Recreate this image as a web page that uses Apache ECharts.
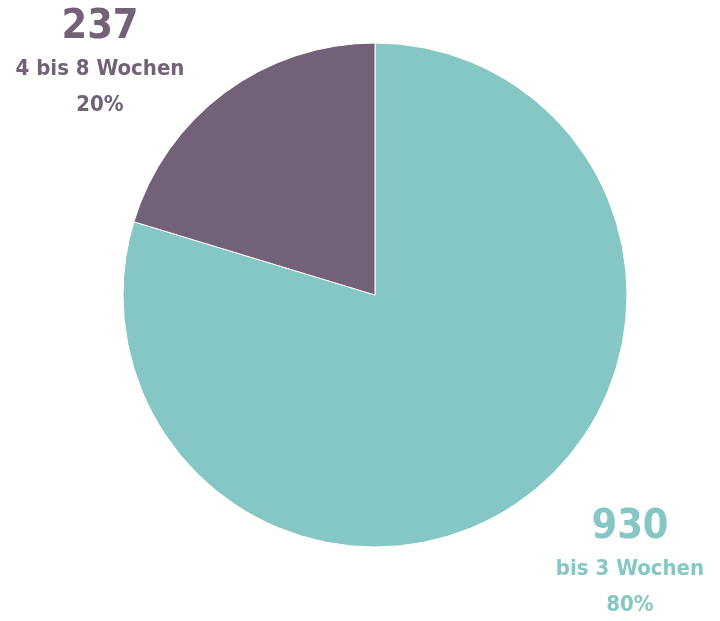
<!DOCTYPE html>
<html>
<head>
<meta charset="utf-8">
<script src="https://cdn.jsdelivr.net/npm/echarts@6/dist/echarts.min.js"></script>
<style>
  html, body { margin: 0; padding: 0; background: #fff; }
  #chart { width: 720px; height: 621px; }
</style>
</head>
<body>
<div id="chart"></div>
<script>
const categories = ['bis 3 Wochen', '4 bis 8 Wochen']
const values = [930, 237]
const colors = ['#84c7c4', '#736178']

// where each label block sits (center of block)
const labelSpots = [
  { x: 630, y: 563 },
  { x: 100, y: 63 }
]

const chart = echarts.init(document.getElementById('chart'))
const font = '"DejaVu Sans Condensed", "DejaVu Sans", sans-serif'

const option = {
  animation: false,
  series: [{
    type: 'pie',
    center: [375, 295],
    radius: [0, 252],
    startAngle: 90,
    clockwise: true,
    itemStyle: { borderColor: '#fff', borderWidth: 1 },
    labelLine: { show: false },
    label: {
      show: true,
      position: 'outside',
      overflow: 'none',
      formatter: p => '{v|' + p.value + '}\n{n|' + p.name + '}\n{p|' + Math.round(p.percent) + '%}',
      rich: {
        v: { fontFamily: font, fontWeight: 'bold', fontSize: 41, lineHeight: 48, align: 'center' },
        n: { fontFamily: font, fontWeight: 'bold', fontSize: 22, lineHeight: 36, align: 'center' },
        p: { fontFamily: font, fontWeight: 'bold', fontSize: 22, lineHeight: 36, align: 'center' }
      }
    },
    labelLayout: params => ({
      x: labelSpots[params.dataIndex].x,
      y: labelSpots[params.dataIndex].y,
      align: 'center',
      verticalAlign: 'middle'
    }),
    data: categories.map((c, i) => ({
      name: c,
      value: values[i],
      itemStyle: { color: colors[i] },
      label: { color: colors[i], rich: { v: { color: colors[i] }, n: { color: colors[i] }, p: { color: colors[i] } } }
    }))
  }]
}

chart.setOption(option)
</script>
</body>
</html>
